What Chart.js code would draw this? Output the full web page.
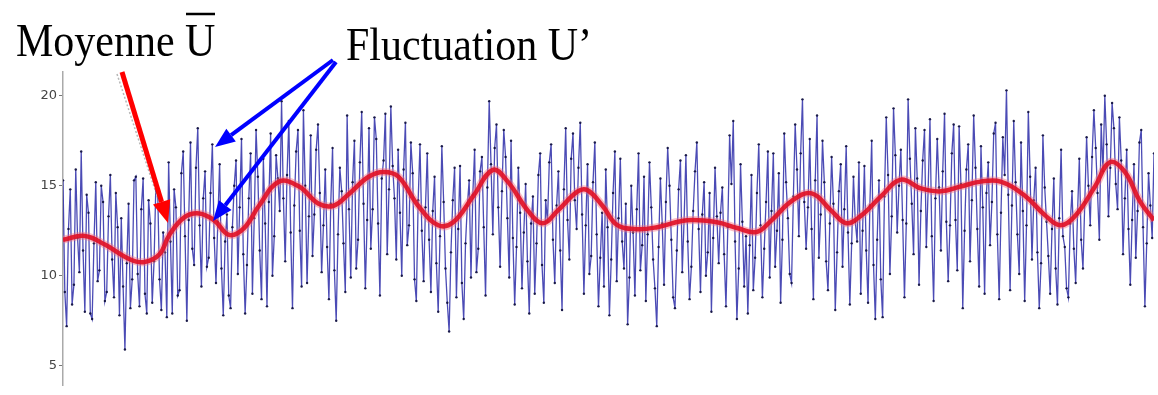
<!DOCTYPE html>
<html>
<head>
<meta charset="utf-8">
<script src="https://cdn.jsdelivr.net/npm/chart.js@4/dist/chart.umd.min.js"></script>
<style>
  html, body { margin: 0; padding: 0; background: #fff; }
  #wrap { position: relative; width: 1158px; height: 395px; overflow: hidden; }
  #chart, #notes { position: absolute; left: 0; top: 0; }
</style>
</head>
<body>
<div id="wrap">
  <canvas id="chart" width="1158" height="395"></canvas>
  <svg id="notes" width="1158" height="395" xmlns="http://www.w3.org/2000/svg"></svg>
</div>
<script>
// ─── Data ───────────────────────────────────────────────────

// y axis
const Y_MIN = 3.92;
const Y_MAX = 21.32;
const yTicks = [5, 10, 15, 20];

// fluctuating signal U (one sample per index)
const noiseU = [
  15.3, 9.1, 7.2, 12.6, 14.8, 8.4, 9.5, 15.9, 12.1, 10.2, 16.9, 11.4, 8.0, 14.5, 13.5, 7.9, 7.6, 11.8, 15.2, 9.7,
  10.3, 15.0, 14.1, 8.6, 9.1, 13.3, 15.6, 10.9, 8.8, 14.6, 12.7, 7.8, 13.2, 9.4, 5.9, 10.7, 14.0, 8.2, 9.8, 15.3,
  15.5, 10.1, 8.3, 13.7, 15.4, 9.0, 7.9, 14.2, 12.9, 8.5, 10.8, 15.1, 14.6, 9.8, 8.1, 12.4, 11.3, 7.7, 16.3, 11.9,
  7.9, 14.8, 13.8, 8.9, 9.2, 15.7, 16.9, 12.2, 7.5, 13.1, 17.4, 11.5, 10.6, 16.0, 18.2, 12.8, 9.4, 14.3, 15.8, 10.5,
  11.0, 14.6, 17.3, 12.1, 9.6, 13.0, 16.2, 10.4, 7.8, 11.9, 13.4, 8.9, 8.2, 12.7, 15.0, 16.4, 10.1, 13.8, 17.6, 11.2,
  7.9, 10.6, 14.3, 16.8, 9.0, 13.2, 18.1, 15.5, 11.4, 8.7, 16.5, 12.9, 8.3, 14.1, 17.9, 10.0, 12.2, 16.7, 15.4, 13.6,
  19.7, 14.3, 10.8, 15.6, 18.6, 12.4, 8.2, 13.9, 16.9, 18.1, 12.5, 9.4, 19.2, 15.0, 9.6, 13.3, 17.8, 11.1, 13.4, 17.0,
  18.4, 14.6, 10.2, 12.8, 15.9, 11.6, 8.7, 14.0, 17.1, 10.3, 7.5, 12.3, 16.0, 14.7, 11.8, 9.1, 18.9, 13.7, 9.9, 15.2,
  17.5, 10.4, 12.0, 16.3, 19.1, 14.0, 9.3, 13.1, 18.2, 11.5, 13.7, 18.8, 17.6, 12.9, 8.9, 15.4, 16.4, 19.0, 11.2, 14.8,
  19.4, 16.1, 14.3, 10.9, 17.0, 13.5, 10.0, 15.9, 18.5, 11.7, 12.8, 17.4, 15.7, 9.8, 8.6, 14.2, 17.3, 12.5, 9.7, 13.8,
  16.8, 12.0, 9.1, 13.6, 15.5, 10.7, 8.0, 12.2, 17.2, 14.1, 10.4, 8.5, 6.9, 11.3, 14.2, 16.0, 8.8, 12.6, 16.1, 9.6,
  7.6, 11.8, 13.9, 15.3, 9.9, 14.5, 17.0, 10.2, 11.5, 15.8, 16.6, 12.7, 8.9, 14.9, 19.7, 16.2, 12.3, 17.1, 18.4, 13.8,
  10.5, 14.7, 18.1, 16.6, 13.2, 9.9, 17.5, 12.1, 8.4, 11.6, 16.0, 13.5, 9.3, 12.4, 15.1, 10.8, 7.9, 12.9, 14.4, 9.0,
  11.8, 15.6, 16.8, 10.6, 8.5, 14.2, 13.0, 16.3, 17.3, 12.0, 9.6, 13.9, 15.8, 11.4, 8.1, 14.8, 18.2, 13.1, 10.9, 16.5,
  17.9, 14.2, 12.6, 16.0, 18.5, 13.4, 9.0, 12.8, 16.2, 10.1, 11.1, 15.2, 17.4, 12.3, 8.3, 11.0, 13.5, 9.4, 15.9, 12.7,
  7.8, 10.9, 14.6, 16.9, 9.7, 13.2, 16.5, 11.9, 10.4, 14.0, 7.3, 9.9, 15.0, 12.4, 8.9, 13.7, 16.8, 10.3, 11.7, 15.5,
  8.6, 12.3, 16.3, 13.8, 10.9, 9.3, 7.2, 11.6, 15.4, 12.9, 9.5, 14.1, 17.1, 15.0, 12.0, 8.8, 8.2, 11.4, 14.8, 16.4,
  10.2, 13.1, 16.7, 11.9, 8.7, 10.5, 13.6, 15.8, 17.4, 12.6, 9.1, 13.4, 15.2, 10.0, 11.3, 14.6, 8.0, 12.1, 16.0, 13.3,
  10.7, 13.5, 14.9, 11.2, 8.3, 12.7, 17.8, 15.1, 18.6, 11.9, 7.6, 10.4, 16.2, 13.0, 9.4, 12.2, 7.9, 11.7, 15.6, 9.2,
  11.0, 14.6, 17.3, 12.8, 8.8, 11.5, 14.1, 16.9, 9.9, 13.6, 16.8, 10.5, 12.5, 15.7, 8.5, 12.0, 17.9, 15.2, 13.2, 10.1,
  9.6, 14.4, 18.4, 15.9, 12.2, 16.8, 19.8, 14.1, 11.5, 13.8, 17.6, 12.6, 8.7, 15.3, 18.9, 11.0, 13.4, 17.5, 15.2, 10.8,
  9.2, 12.9, 16.6, 14.0, 8.1, 11.3, 14.7, 16.2, 10.5, 13.7, 17.2, 12.4, 8.4, 11.8, 15.5, 13.0, 11.9, 16.3, 9.0, 12.5,
  16.1, 11.4, 8.5, 13.9, 17.5, 10.6, 7.6, 12.0, 15.3, 9.8, 7.7, 14.4, 18.8, 15.6, 10.1, 13.3, 19.3, 16.7, 12.4, 15.0,
  17.0, 13.1, 8.8, 12.9, 19.8, 16.5, 14.0, 11.2, 18.2, 15.4, 9.5, 13.6, 16.4, 18.1, 11.6, 14.8, 18.7, 12.2, 8.6, 14.3,
  17.6, 14.9, 11.4, 15.8, 19.0, 13.0, 9.7, 12.8, 16.8, 18.4, 13.1, 10.3, 18.3, 15.1, 8.2, 12.5, 15.9, 17.3, 10.8, 14.2,
  18.9, 16.0, 12.6, 9.4, 17.2, 13.8, 9.0, 14.6, 16.3, 11.7, 14.1, 17.9, 18.5, 12.3, 8.7, 13.5, 17.7, 15.6, 20.3, 14.5,
  9.2, 13.9, 18.6, 15.2, 12.3, 10.1, 17.4, 13.6, 8.6, 12.8, 19.1, 15.5, 10.9, 14.2, 16.0, 11.3, 8.2, 10.7, 17.8, 14.9,
  13.0, 11.1, 9.0, 12.6, 15.4, 10.4, 8.4, 13.2, 17.0, 12.2, 11.6, 9.3, 8.8, 12.9, 14.7, 11.5, 9.6, 13.4, 16.5, 12.0,
  10.4, 14.1, 17.7, 15.0, 12.8, 16.6, 19.2, 17.1, 14.6, 12.0, 18.4, 15.8, 20.0, 17.3, 13.3, 16.0, 19.6, 18.2, 15.1, 13.7,
  18.8, 16.4, 11.2, 14.3, 17.0, 12.6, 9.5, 13.1, 16.2, 11.0, 13.6, 17.4, 18.1, 12.7, 8.3, 11.8, 15.7, 13.9, 12.1, 16.8
];

// moving mean Ū, sampled at these indices
const meanT = [
  0, 12, 23, 36.6, 44.8, 53, 58.4, 66.6, 74.8, 83,
  91.2, 99.4, 107.6, 118.6, 129.6, 140.4, 148.6, 156.8, 167.8, 176,
  184.2, 195, 206, 214.2, 225.2, 236, 244.2, 255.2, 263.4, 271.6,
  282.6, 288, 296.2, 304.4, 315.4, 326.2, 342.6, 359, 370, 380.8,
  389, 400, 411, 421.8, 430, 438.2, 449.2, 460, 471, 482,
  492.8, 503.8, 514.8, 528.4, 539.4, 547.6, 555.8, 566.6, 574.8, 583,
  591.2, 599
];
const meanU = [
  12.0, 12.21, 11.73, 10.92, 10.76, 11.19, 12.27, 13.24, 13.46, 13.08,
  12.27, 12.65, 13.89, 15.23, 14.96, 14.0, 13.89, 14.53, 15.5, 15.77,
  15.5, 13.89, 12.81, 12.97, 14.42, 15.88, 15.23, 13.62, 12.92, 13.62,
  14.69, 14.75, 13.89, 12.81, 12.59, 12.7, 13.08, 12.97, 12.65, 12.43,
  13.08, 14.15, 14.58, 13.62, 12.92, 13.34, 14.42, 15.34, 14.85, 14.69,
  14.96, 15.23, 15.23, 14.42, 13.34, 12.81, 13.34, 14.96, 16.31, 15.77,
  14.15, 13.08
];

// ─── Chart ──────────────────────────────────────────────────

const noisePoints = noiseU.map((v, i) => ({ x: i, y: v }));
const meanPoints = meanT.map((t, i) => ({ x: t, y: meanU[i] }));

new Chart(document.getElementById('chart'), {
  type: 'line',
  data: {
    datasets: [
      {
        label: 'Moyenne',
        data: meanPoints,
        order: 0,
        borderColor: 'rgba(225, 18, 40, 0.92)',
        borderWidth: 4.5,
        pointRadius: 0,
        tension: 0.4,
      },
      {
        label: 'Moyenne halo',
        data: meanPoints,
        order: 1,
        borderColor: 'rgba(245, 110, 130, 0.45)',
        borderWidth: 8,
        pointRadius: 0,
        tension: 0.4,
      },
      {
        label: 'Fluctuation',
        data: noisePoints,
        order: 2,
        borderColor: 'rgba(35, 35, 165, 0.82)',
        borderWidth: 1.3,
        pointRadius: 1.2,
        pointBorderWidth: 0,
        pointBackgroundColor: 'rgba(18, 18, 65, 0.95)',
        tension: 0,
      },
    ],
  },
  options: {
    responsive: false,
    animation: false,
    devicePixelRatio: 1,
    layout: { padding: { top: 72, left: 0, right: 0, bottom: 0 } },
    plugins: { legend: { display: false }, tooltip: { enabled: false } },
    scales: {
      x: { type: 'linear', min: 0, max: noiseU.length - 1, display: false },
      y: {
        min: Y_MIN,
        max: Y_MAX,
        afterFit: s => { s.width = 63; },
        afterBuildTicks: s => { s.ticks = yTicks.map(v => ({ value: v })); },
        ticks: { font: { family: 'DejaVu Sans', size: 13 }, color: '#444', padding: 2 },
        grid: { drawOnChartArea: false, drawTicks: true, tickLength: 4, color: '#777' },
        border: { display: true, color: '#aaa', width: 1.5 },
      },
    },
  },
});

// ─── Annotations (titles + arrows) ──────────────────────────

const NS = 'http://www.w3.org/2000/svg';
const svg = document.getElementById('notes');

function el(tag, attrs, text) {
  const e = document.createElementNS(NS, tag);
  Object.entries(attrs).forEach(([k, v]) => e.setAttribute(k, v));
  if (text) e.textContent = text;
  svg.appendChild(e);
  return e;
}

function arrow(x1, y1, x2, y2, color, width, headLen, headHalf) {
  const dx = x2 - x1, dy = y2 - y1;
  const len = Math.hypot(dx, dy);
  const ux = dx / len, uy = dy / len;
  const bx = x2 - ux * headLen, by = y2 - uy * headLen;
  el('line', { x1, y1, x2: bx, y2: by, stroke: color, 'stroke-width': width });
  const pts = [
    [x2, y2],
    [bx - uy * headHalf, by + ux * headHalf],
    [bx + uy * headHalf, by - ux * headHalf],
  ].map(p => p.join(',')).join(' ');
  el('polygon', { points: pts, fill: color });
}

const serif = "'Liberation Serif', 'Times New Roman', serif";
el('text', { transform: 'translate(16,56) scale(1,1.12)', 'font-family': serif, 'font-size': 42, fill: '#000' }, 'Moyenne U');
el('line', { x1: 186, y1: 14, x2: 215, y2: 14, stroke: '#000', 'stroke-width': 2.5 });
el('text', { transform: 'translate(346,60) scale(1,1.12)', 'font-family': serif, 'font-size': 42, fill: '#000' }, 'Fluctuation U\u2019');

el('line', { x1: 117, y1: 74, x2: 160, y2: 205, stroke: '#999', 'stroke-width': 1.5, 'stroke-dasharray': '2,2', opacity: 0.7 });
arrow(122, 72, 168, 223, '#ff0000', 5, 22, 9);
arrow(333, 60, 215, 147, '#0000ff', 4, 20, 8);
arrow(336, 62, 213, 221, '#0000ff', 4, 20, 8);
</script>
</body>
</html>
